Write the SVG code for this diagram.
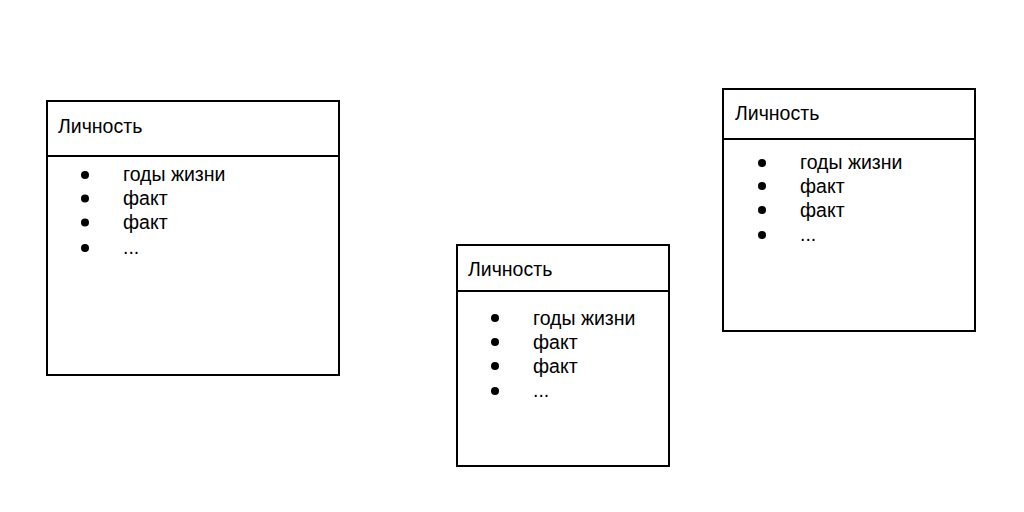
<svg xmlns="http://www.w3.org/2000/svg" width="1024" height="512" viewBox="0 0 1024 512">
<style>
.box{fill:#fff;stroke:#000;stroke-width:2}
.div{stroke:#000;stroke-width:2}
text{font-family:"Liberation Sans",Arial,sans-serif;font-size:19.5px;fill:#000}
.dot{fill:#000}
</style>
<rect width="1024" height="512" fill="#fff"/>
<g id="node1">
<rect class="box" x="47" y="101" width="292" height="274"/>
<line class="div" x1="47" y1="156" x2="339" y2="156"/>
<text x="58" y="133">Личность</text>
<circle class="dot" cx="85" cy="175" r="4"/><text x="123" y="181">годы жизни</text>
<circle class="dot" cx="85" cy="198.5" r="4"/><text x="123" y="205">факт</text>
<circle class="dot" cx="85" cy="222.5" r="4"/><text x="123" y="229">факт</text>
<circle class="dot" cx="85" cy="248" r="4"/><text x="123" y="254">...</text>
</g>
<g id="node2">
<rect class="box" x="457" y="245" width="212" height="221"/>
<line class="div" x1="457" y1="291" x2="669" y2="291"/>
<text x="468" y="276">Личность</text>
<circle class="dot" cx="495" cy="318" r="4"/><text x="533" y="325">годы жизни</text>
<circle class="dot" cx="495" cy="342" r="4"/><text x="533" y="349">факт</text>
<circle class="dot" cx="495" cy="366" r="4"/><text x="533" y="373">факт</text>
<circle class="dot" cx="495" cy="391" r="4"/><text x="533" y="397">...</text>
</g>
<g id="node3">
<rect class="box" x="723" y="89" width="252" height="242"/>
<line class="div" x1="723" y1="139" x2="975" y2="139"/>
<text x="735" y="120">Личность</text>
<circle class="dot" cx="762" cy="163" r="4"/><text x="800" y="169">годы жизни</text>
<circle class="dot" cx="762" cy="186" r="4"/><text x="800" y="193">факт</text>
<circle class="dot" cx="762" cy="210" r="4"/><text x="800" y="217">факт</text>
<circle class="dot" cx="762" cy="235" r="4"/><text x="800" y="241">...</text>
</g>
<g id="connectors"/>
</svg>
